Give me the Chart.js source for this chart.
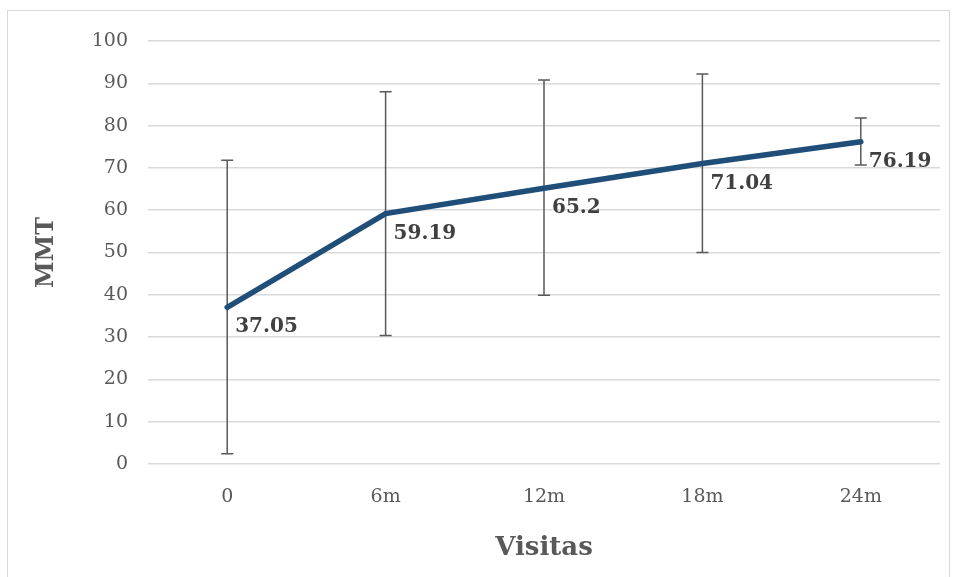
<!doctype html>
<html>
<head>
<title>MMT por visita</title>
<script src="https://cdn.jsdelivr.net/npm/chart.js@4/dist/chart.umd.min.js"></script>
<style>
  body { margin: 0; background: #fff; }
  #frame {
    position: absolute; left: 7px; top: 10px; width: 943px; height: 600px;
    border: 1px solid #d9d9d9; box-sizing: border-box;
  }
  #container { position: absolute; left: 0; top: 0; width: 957px; height: 577px; }
</style>
</head>
<body>
<div id="frame"></div>
<div id="container">
  <canvas id="canvas"></canvas>
</div>
<script>
var visitas = ['0', '6m', '12m', '18m', '24m'];
var mmt = [37.05, 59.19, 65.2, 71.04, 76.19];
var errLow = [2.4, 30.4, 39.9, 50.0, 70.7];
var errHigh = [71.8, 88.0, 90.8, 92.2, 81.8];

var serif = "'DejaVu Serif', 'Liberation Serif', serif";

// error bars + value labels, drawn through the chart scales
var extras = {
  id: 'extras',
  beforeDatasetsDraw: function(chart) {
    var ctx = chart.ctx, x = chart.scales.x, y = chart.scales.y;
    ctx.save();
    ctx.strokeStyle = '#595959';
    ctx.lineWidth = 1.5;
    for (var i = 0; i < mmt.length; i++) {
      var px = x.getPixelForValue(i);
      var top = y.getPixelForValue(errHigh[i]);
      var bot = y.getPixelForValue(errLow[i]);
      ctx.beginPath();
      ctx.moveTo(px, top); ctx.lineTo(px, bot);
      ctx.moveTo(px - 6, top); ctx.lineTo(px + 6, top);
      ctx.moveTo(px - 6, bot); ctx.lineTo(px + 6, bot);
      ctx.stroke();
    }
    ctx.restore();
  },
  afterDatasetsDraw: function(chart) {
    var ctx = chart.ctx, x = chart.scales.x, y = chart.scales.y;
    ctx.save();
    ctx.fillStyle = '#404040';
    ctx.font = 'bold 20px ' + serif;
    ctx.textAlign = 'left';
    ctx.textBaseline = 'middle';
    for (var i = 0; i < mmt.length; i++) {
      var px = x.getPixelForValue(i);
      var py = y.getPixelForValue(mmt[i]);
      ctx.fillText(String(mmt[i]), px + 8, py + 20);
    }
    ctx.restore();
  }
};

window.onload = function() {
  var ctx = document.getElementById('canvas').getContext('2d');
  window.myLine = new Chart(ctx, {
    type: 'line',
    data: {
      labels: visitas,
      datasets: [{
        label: 'MMT',
        data: mmt,
        borderColor: '#1f4e79',
        backgroundColor: '#1f4e79',
        borderWidth: 5.5,
        pointRadius: 0,
        tension: 0,
        borderCapStyle: 'round'
      }]
    },
    options: {
      responsive: true,
      maintainAspectRatio: false,
      animation: false,
      layout: { padding: { left: 28, right: 17, top: 41, bottom: 0 } },
      plugins: {
        legend: { display: false },
        tooltip: { enabled: false }
      },
      scales: {
        x: {
          offset: true,
          grid: { display: false },
          border: { display: false },
          ticks: { color: '#595959', font: { family: serif, size: 19 }, padding: 14 },
          title: {
            display: true, text: 'Visitas', color: '#595959',
            font: { family: serif, size: 26, weight: 'bold' }, padding: { top: 4, bottom: 13 }
          },
          afterFit: function(s) { s.height = 113; }
        },
        y: {
          min: 0, max: 100,
          grid: { color: '#d9d9d9', lineWidth: 1.5, drawTicks: false },
          border: { display: false },
          ticks: { stepSize: 10, color: '#595959', font: { family: serif, size: 19 }, padding: 20 },
          title: {
            display: true, text: 'MMT', color: '#595959',
            font: { family: serif, size: 24, weight: 'bold' }
          },
          afterFit: function(s) { s.width = 120; }
        }
      }
    },
    plugins: [extras]
  });
};
</script>
</body>
</html>
